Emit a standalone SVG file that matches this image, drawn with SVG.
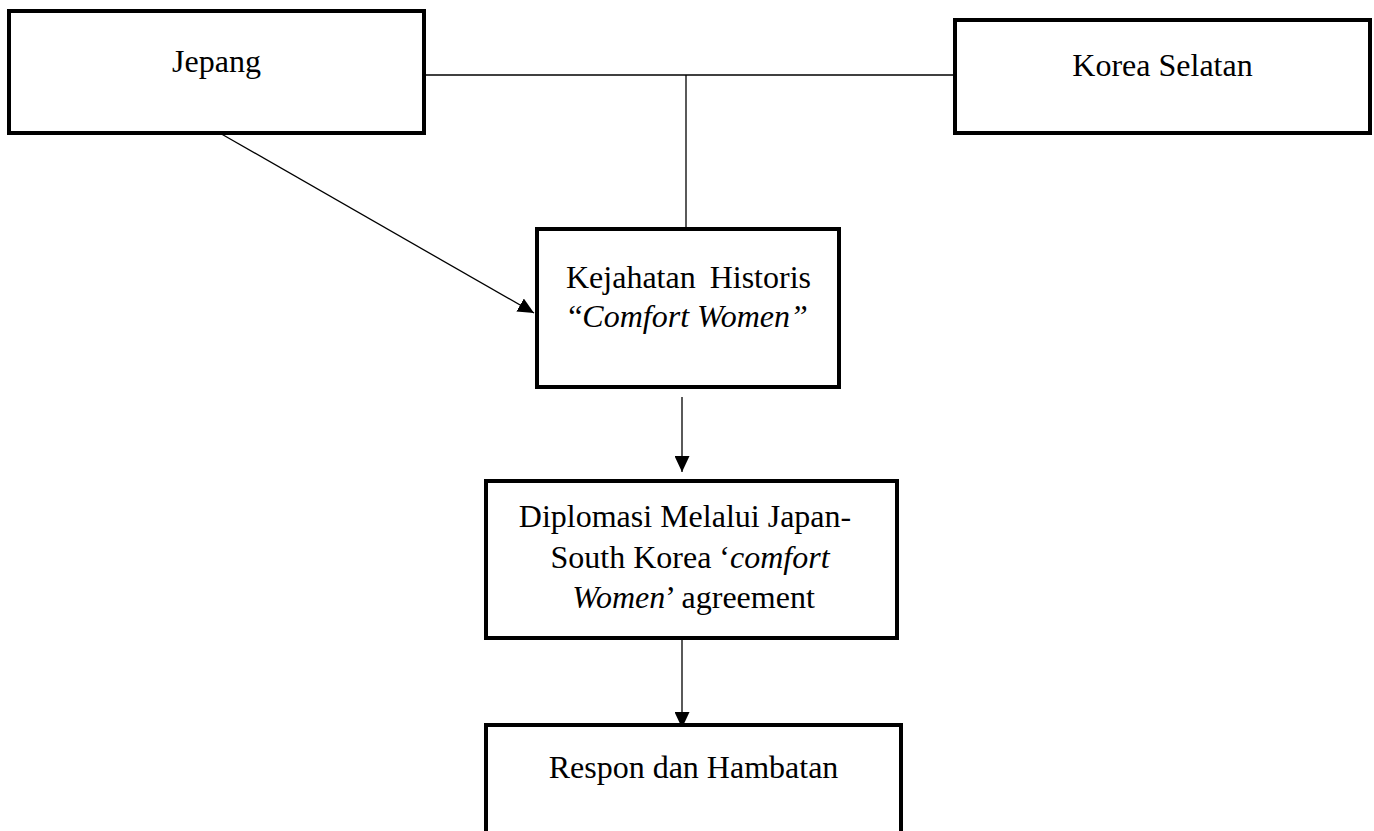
<svg xmlns="http://www.w3.org/2000/svg" width="1374" height="831" viewBox="0 0 1374 831">
<style>
.box{fill:#fff;stroke:#000;stroke-width:4}
.t{font-family:"Liberation Serif","Times New Roman",serif;font-size:32px;fill:#000}
.c{fill:none;stroke:#000;stroke-width:1.3}
</style>
<defs>
<marker id="ah" markerUnits="userSpaceOnUse" markerWidth="16" markerHeight="15" refX="16" refY="7.5" orient="auto">
<path d="M0,0 L16,7.5 L0,15 z" fill="#000"/>
</marker>
</defs>
<rect width="1374" height="831" fill="#fff"/>
<g id="connectors">
<line class="c" x1="426" y1="75" x2="953" y2="75"/>
<line class="c" x1="686" y1="75" x2="686" y2="227"/>
<line class="c" x1="218" y1="132" x2="534" y2="313" marker-end="url(#ah)"/>
<line class="c" x1="682" y1="397" x2="682" y2="472" marker-end="url(#ah)"/>
<line class="c" x1="682" y1="638" x2="682" y2="728" marker-end="url(#ah)"/>
</g>
<g id="jepang">
<rect class="box" x="9" y="11" width="415" height="122"/>
<text class="t" x="216.5" y="72" text-anchor="middle">Jepang</text>
</g>
<g id="korea">
<rect class="box" x="955" y="20" width="415" height="113"/>
<text class="t" x="1162.5" y="76" text-anchor="middle">Korea Selatan</text>
</g>
<g id="kejahatan">
<rect class="box" x="537" y="229" width="302" height="158"/>
<text class="t" y="287.5"><tspan x="566">Kejahatan</tspan><tspan x="811" text-anchor="end">Historis</tspan></text>
<text class="t" x="688" y="327" text-anchor="middle">“<tspan font-style="italic">Comfort Women”</tspan></text>
</g>
<g id="diplomasi">
<rect class="box" x="486" y="481" width="411" height="157"/>
<text class="t" x="685" y="527" text-anchor="middle">Diplomasi Melalui Japan-</text>
<text class="t" x="690" y="568" text-anchor="middle">South Korea ‘<tspan font-style="italic">comfort</tspan></text>
<text class="t" x="693.5" y="608" text-anchor="middle"><tspan font-style="italic">Women</tspan>’ agreement</text>
</g>
<g id="respon">
<rect class="box" x="486" y="725" width="415" height="130"/>
<text class="t" x="693.5" y="778" text-anchor="middle">Respon dan Hambatan</text>
</g>
</svg>
